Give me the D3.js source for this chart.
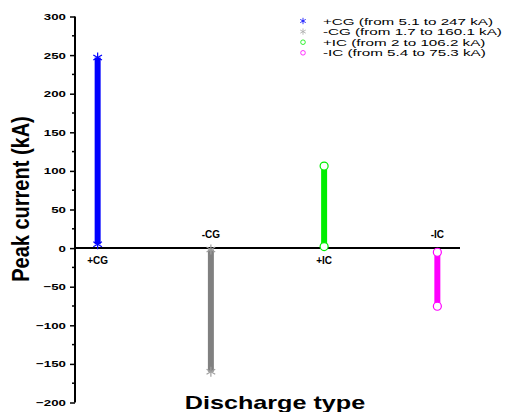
<!DOCTYPE html>
<html>
<head>
<meta charset="utf-8">
<script src="https://cdnjs.cloudflare.com/ajax/libs/d3/7.8.5/d3.min.js"></script>
<style>
  body { margin: 0; background: #fff; }
  svg { display: block; font-family: Arial, "Liberation Sans", sans-serif; }
</style>
</head>
<body>
<svg width="506" height="412"></svg>
<script>
(function(){

	// data
	var categories = ["+CG", "-CG", "+IC", "-IC"];
	var lowValues = [5.1, -1.7, 2, -5.4];
	var highValues = [247, -160.1, 106.2, -75.3];
	var colors = ["#0000ff", "#808080", "#00ee00", "#ff00ff"];
	var markers = ["star", "star", "circle", "circle"];
	var legendLabels = [
		"+CG (from 5.1 to 247 kA)",
		"-CG (from 1.7 to 160.1 kA)",
		"+IC (from 2 to 106.2 kA)",
		"-IC (from 5.4 to 75.3 kA)"
	];
	var yTicks = [-200, -150, -100, -50, 0, 50, 100, 150, 200, 250, 300];

	var svg = d3.select("svg");
	var sx = 1.4; // the picture is stretched sideways

	var x = d3.scaleLinear().domain([0.8, 4.2]).range([75, 460]);
	var y = d3.scaleLinear().domain([-200, 300]).range([402.5, 16.5]);

	// y axis
	var yAxis = svg.append("g")
		.attr("transform", "translate(75,0)")
		.call(d3.axisLeft(y).tickValues(yTicks).tickSize(5).tickPadding(3).tickFormat(d3.format("d")));
	yAxis.select(".domain").remove();
	yAxis.selectAll(".tick line").attr("stroke", "#000").attr("stroke-width", 1.5);
	yAxis.selectAll(".tick text")
		.attr("x", -9 / sx)
		.attr("transform", "scale(" + sx + ",1)")
		.style("font-size", "9.5px")
		.style("font-weight", "bold")
		.attr("fill", "#000");

	// minor ticks
	svg.append("g").selectAll("line")
		.data(d3.range(-175, 300, 50))
		.enter().append("line")
			.attr("x1", 72).attr("x2", 75)
			.attr("y1", function(d){ return y(d); })
			.attr("y2", function(d){ return y(d); })
			.attr("stroke", "#000").attr("stroke-width", 1.5);

	svg.append("line")
		.attr("x1", 75).attr("x2", 75)
		.attr("y1", y(300)).attr("y2", y(-200))
		.attr("stroke", "#000").attr("stroke-width", 2);

	// zero line
	svg.append("line")
		.attr("x1", 75).attr("x2", x(4.2))
		.attr("y1", y(0)).attr("y2", y(0))
		.attr("stroke", "#000").attr("stroke-width", 2);

	// ranges
	var idx = d3.range(categories.length);
	svg.append("g").selectAll("line")
		.data(idx)
		.enter().append("line")
			.attr("x1", function(i){ return x(i + 1); })
			.attr("x2", function(i){ return x(i + 1); })
			.attr("y1", function(i){ return y(lowValues[i]); })
			.attr("y2", function(i){ return y(highValues[i]); })
			.attr("stroke", function(i){ return colors[i]; })
			.attr("stroke-width", 6);

	function star(g, cx, cy, r, col, w){
		for (var a = 0; a < 3; a++) {
			var ang = Math.PI / 2 + a * Math.PI / 3;
			g.append("line")
				.attr("x1", cx - r * Math.cos(ang)).attr("y1", cy - r * Math.sin(ang))
				.attr("x2", cx + r * Math.cos(ang)).attr("y2", cy + r * Math.sin(ang))
				.attr("stroke", col).attr("stroke-width", w);
		}
	}

	var mk = svg.append("g");
	idx.forEach(function(i){
		[lowValues[i], highValues[i]].forEach(function(v){
			if (markers[i] == "star") {
				star(mk, x(i + 1), y(v), 5, d3.color(colors[i]).brighter(0.6), 1.2);
			} else {
				mk.append("circle")
					.attr("cx", x(i + 1)).attr("cy", y(v)).attr("r", 4)
					.attr("fill", "#fff").attr("stroke", colors[i]).attr("stroke-width", 1.2);
			}
		});
	});

	// category labels
	svg.append("g").selectAll("text")
		.data(idx)
		.enter().append("text")
			.attr("x", function(i){ return x(i + 1); })
			.attr("y", function(i){ return highValues[i] > 0 ? y(0) + 16 : y(0) - 10; })
			.attr("text-anchor", "middle")
			.style("font-size", "10px")
			.style("font-weight", "bold")
			.text(function(i){ return categories[i]; });

	// legend
	var lg = svg.append("g").attr("transform", "translate(303,21)");
	idx.forEach(function(i){
		var yy = i * 10.6;
		if (markers[i] == "star") {
			star(lg, 0, yy, 3.2, d3.color(colors[i]).brighter(0.8), 0.8);
		} else {
			lg.append("circle").attr("cx", 0).attr("cy", yy).attr("r", 2.3)
				.attr("fill", "none").attr("stroke", colors[i]).attr("stroke-width", 0.8);
		}
		lg.append("text")
			.attr("transform", "translate(20," + (yy + 3.5) + ") scale(1.6,1)")
			.style("font-size", "9.5px")
			.text(legendLabels[i]);
	});

	// axis titles
	svg.append("text")
		.attr("transform", "translate(29,199) rotate(-90) scale(1,1.15)")
		.attr("text-anchor", "middle")
		.style("font-size", "20px")
		.style("font-weight", "bold")
		.text("Peak current (kA)");

	svg.append("text")
		.attr("transform", "translate(275,409) scale(" + sx + ",1)")
		.attr("text-anchor", "middle")
		.style("font-size", "18px")
		.style("font-weight", "bold")
		.text("Discharge type");

})();
</script>
</body>
</html>
